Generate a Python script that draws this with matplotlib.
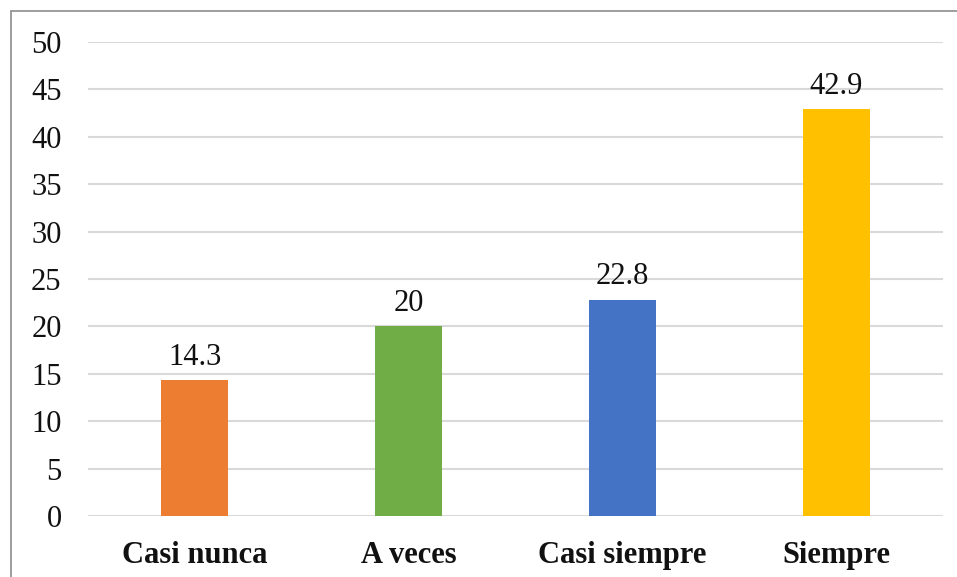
import numpy as np
import matplotlib.pyplot as plt
from matplotlib.patches import Rectangle

# response categories and percentages
categorias = ['Casi nunca', 'A veces', 'Casi siempre', 'Siempre']
porcentajes = [14.3, 20, 22.8, 42.9]
etiquetas = ['14.3', '20', '22.8', '42.9']
colores = ['#ED7D31', '#70AD47', '#4472C4', '#FFC000']
yticks = [0, 5, 10, 15, 20, 25, 30, 35, 40, 45, 50]

plt.rcParams['font.family'] = ['Liberation Serif', 'DejaVu Serif']

W, H = 957, 577
fig = plt.figure(figsize=(W / 100, H / 100), dpi=100)
ax = fig.add_axes([88 / W, (H - 516) / H, (943 - 88) / W, (516 - 42) / H])

x = np.arange(len(categorias))
bars = ax.bar(x, porcentajes, width=0.313, color=colores, zorder=3)

for b, txt in zip(bars, etiquetas):
    ax.text(b.get_x() + b.get_width() / 2, b.get_height() + 0.9, txt,
            ha='center', va='bottom', fontsize=22, color='#111111')

ax.set_xlim(-0.5, len(categorias) - 0.5)
ax.set_ylim(0, 50)
ax.set_yticks(yticks)
ax.set_yticklabels([str(t) for t in yticks], fontsize=22)
ax.set_xticks(x)
ax.set_xticklabels(categorias, fontsize=22, fontweight='bold')
ax.tick_params(axis='both', length=0, colors='#111111')
ax.tick_params(axis='y', pad=19)
ax.tick_params(axis='x', pad=18)
ax.grid(axis='y', color='#D9D9D9', linewidth=1.5, zorder=0)
for s in ax.spines.values():
    s.set_visible(False)

# outer frame
fig.patches.append(Rectangle((11 / W, -0.1), 1.2, (H - 11) / H + 0.1,
                             transform=fig.transFigure, fill=False,
                             edgecolor='#8C8C8C', linewidth=1.2))

fig.savefig('out.png', dpi=100)
